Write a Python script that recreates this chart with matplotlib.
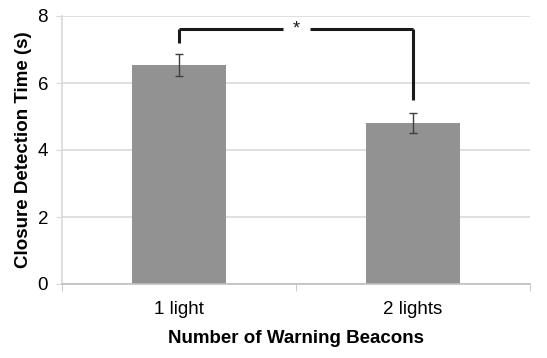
import numpy as np
import matplotlib as mpl
import matplotlib.pyplot as plt

categories = ["1 light", "2 lights"]
means = [6.54, 4.81]
errors = [0.32, 0.30]
yticks = [0, 2, 4, 6, 8]

mpl.rcParams["font.family"] = ["Liberation Sans", "DejaVu Sans"]
mpl.rcParams["font.size"] = 13.5

fig = plt.figure(figsize=(5.47, 3.58), dpi=100)
ax = fig.add_axes([62 / 547, 74 / 358, (530 - 62) / 547, (284 - 16) / 358])

x = np.arange(len(categories))
ax.bar(x, means, width=0.4, color="#929292", zorder=2)
ax.errorbar(x, means, yerr=errors, fmt="none", ecolor="#404040",
            elinewidth=1.0, capsize=3, capthick=1.0, zorder=3)

ax.set_xlim(-0.5, 1.5)
ax.set_ylim(0, 8)
ax.set_yticks(yticks)
ax.yaxis.grid(True, color="#d9d9d9", linewidth=1.2, zorder=0)
ax.set_axisbelow(True)

ax.set_xticks(x)
ax.set_xticklabels(categories)
ax.set_xticks([-0.5, 0.5, 1.5], minor=True)
ax.tick_params(axis="x", which="major", length=0, pad=12)
ax.tick_params(axis="x", which="minor", length=5, color="#bfbfbf")
ax.tick_params(axis="y", length=4, color="#d9d9d9", pad=6)

for side in ["top", "right"]:
    ax.spines[side].set_visible(False)
ax.spines["left"].set_color("#d9d9d9")
ax.spines["bottom"].set_color("#bfbfbf")
ax.spines["left"].set_linewidth(1.2)
ax.spines["bottom"].set_linewidth(1.2)

ax.set_ylabel("Closure Detection Time (s)", fontweight="bold", labelpad=4)
ax.set_xlabel("Number of Warning Beacons", fontweight="bold", labelpad=9)

# significance bracket between the two conditions
top = 7.61
bracket_kw = dict(color="#1a1a1a", linewidth=2.2, solid_capstyle="butt", zorder=4)
ax.plot([x[0], x[0]], [7.19, top], **bracket_kw)
ax.plot([x[0], 0.445], [top, top], **bracket_kw)
ax.plot([0.56, x[1]], [top, top], **bracket_kw)
ax.plot([x[1], x[1]], [top, 5.49], **bracket_kw)
ax.text(0.5, top, "*", ha="center", va="center", fontsize=13, color="#1a1a1a")

fig.savefig("out.png", dpi=100)
